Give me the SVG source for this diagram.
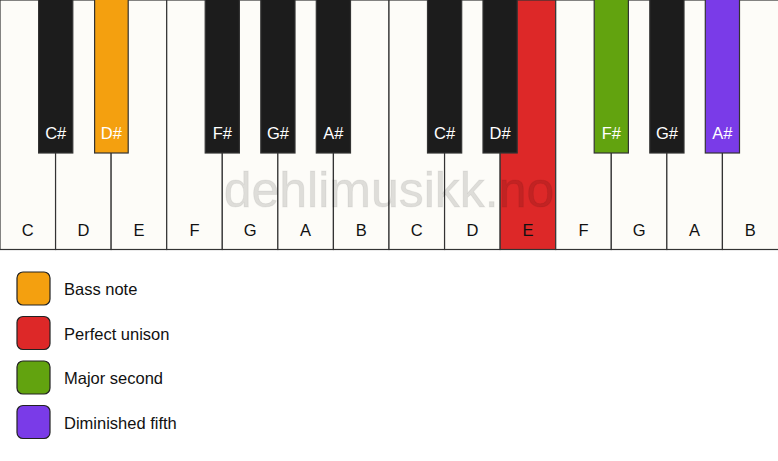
<svg xmlns="http://www.w3.org/2000/svg" width="778" height="461" viewBox="0 0 778 461">
<style>
.w{fill:#fdfcf8;stroke:#333;stroke-width:1.2}
.b{fill:#1c1c1c;stroke:#333;stroke-width:1.2}
.or{fill:#f4a00f}.rd{fill:#dd2828}.gr{fill:#62a30f}.pu{fill:#7a3be8}
.lb{font-family:"Liberation Sans",Arial,sans-serif;font-size:16.5px;text-anchor:middle;fill:#111}
.lw{font-family:"Liberation Sans",Arial,sans-serif;font-size:16.5px;text-anchor:middle;fill:#fff}
.lg{font-family:"Liberation Sans",Arial,sans-serif;font-size:16.5px;fill:#111}
.sq{stroke:#222;stroke-width:1.2}
</style>
<rect width="778" height="461" fill="#ffffff"/>
<g id="white-keys">
<g id="w-C1"><rect class="w" x="0" y="0" width="55.57" height="249.5"/><text class="lb" x="27.8" y="236">C</text></g>
<g id="w-D1"><rect class="w" x="55.57" y="0" width="55.57" height="249.5"/><text class="lb" x="83.4" y="236">D</text></g>
<g id="w-E1"><rect class="w" x="111.14" y="0" width="55.57" height="249.5"/><text class="lb" x="138.9" y="236">E</text></g>
<g id="w-F1"><rect class="w" x="166.71" y="0" width="55.57" height="249.5"/><text class="lb" x="194.5" y="236">F</text></g>
<g id="w-G1"><rect class="w" x="222.28" y="0" width="55.57" height="249.5"/><text class="lb" x="250.1" y="236">G</text></g>
<g id="w-A1"><rect class="w" x="277.85" y="0" width="55.57" height="249.5"/><text class="lb" x="305.6" y="236">A</text></g>
<g id="w-B1"><rect class="w" x="333.42" y="0" width="55.57" height="249.5"/><text class="lb" x="361.2" y="236">B</text></g>
<g id="w-C2"><rect class="w" x="389" y="0" width="55.57" height="249.5"/><text class="lb" x="416.8" y="236">C</text></g>
<g id="w-D2"><rect class="w" x="444.57" y="0" width="55.57" height="249.5"/><text class="lb" x="472.4" y="236">D</text></g>
<g id="w-E2"><rect class="w rd" x="500.14" y="0" width="55.57" height="249.5"/><text class="lb" x="527.9" y="236">E</text></g>
<g id="w-F2"><rect class="w" x="555.71" y="0" width="55.57" height="249.5"/><text class="lb" x="583.5" y="236">F</text></g>
<g id="w-G2"><rect class="w" x="611.28" y="0" width="55.57" height="249.5"/><text class="lb" x="639.1" y="236">G</text></g>
<g id="w-A2"><rect class="w" x="666.85" y="0" width="55.57" height="249.5"/><text class="lb" x="694.6" y="236">A</text></g>
<g id="w-B2"><rect class="w" x="722.42" y="0" width="56.5" height="249.5"/><text class="lb" x="750.2" y="236">B</text></g>
</g>
<g id="black-keys">
<g id="b-Cs1"><rect class="b" x="38.6" y="-1" width="34.2" height="154"/><text class="lw" x="55.7" y="139">C#</text></g>
<g id="b-Ds1"><rect class="b or" x="94.6" y="-1" width="33.6" height="154"/><text class="lw" x="111.3" y="139">D#</text></g>
<g id="b-Fs1"><rect class="b" x="205.2" y="-1" width="34.2" height="154"/><text class="lw" x="222.3" y="139">F#</text></g>
<g id="b-Gs1"><rect class="b" x="260.8" y="-1" width="34.2" height="154"/><text class="lw" x="277.9" y="139">G#</text></g>
<g id="b-As1"><rect class="b" x="316.3" y="-1" width="34.2" height="154"/><text class="lw" x="333.4" y="139">A#</text></g>
<g id="b-Cs2"><rect class="b" x="427.5" y="-1" width="34.2" height="154"/><text class="lw" x="444.6" y="139">C#</text></g>
<g id="b-Ds2"><rect class="b" x="483" y="-1" width="34.2" height="154"/><text class="lw" x="500.1" y="139">D#</text></g>
<g id="b-Fs2"><rect class="b gr" x="594.2" y="-1" width="34.2" height="154"/><text class="lw" x="611.3" y="139">F#</text></g>
<g id="b-Gs2"><rect class="b" x="649.8" y="-1" width="34.2" height="154"/><text class="lw" x="666.9" y="139">G#</text></g>
<g id="b-As2"><rect class="b pu" x="705.3" y="-1" width="34.2" height="154"/><text class="lw" x="722.4" y="139">A#</text></g>
</g>
<text x="389" y="207" font-family="Liberation Sans,Arial,sans-serif" font-size="50" text-anchor="middle" fill="#000" fill-opacity="0.12" stroke="#000" stroke-opacity="0.06" stroke-width="1">dehlimusikk.no</text>
<g id="legend">
<g id="leg-bass"><rect class="sq or" x="17" y="272" width="33" height="33" rx="6"/><text class="lg" x="64" y="295">Bass note</text></g>
<g id="leg-unison"><rect class="sq rd" x="17" y="316.5" width="33" height="33" rx="6"/><text class="lg" x="64" y="339.5">Perfect unison</text></g>
<g id="leg-second"><rect class="sq gr" x="17" y="361" width="33" height="33" rx="6"/><text class="lg" x="64" y="384">Major second</text></g>
<g id="leg-fifth"><rect class="sq pu" x="17" y="405.5" width="33" height="33" rx="6"/><text class="lg" x="64" y="428.5">Diminished fifth</text></g>
</g>
</svg>
